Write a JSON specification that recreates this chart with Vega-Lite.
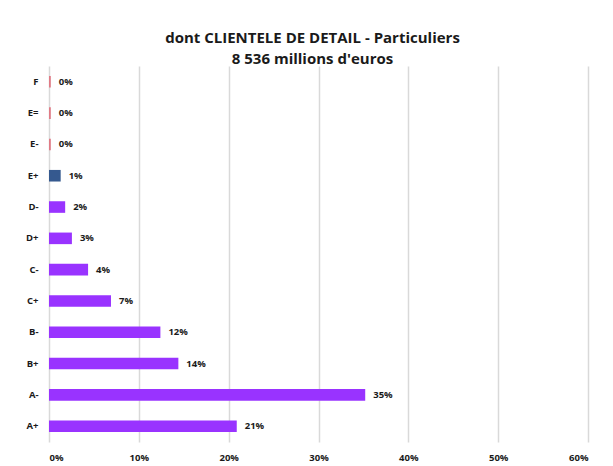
{
  "$schema": "https://vega.github.io/schema/vega-lite/v6.json",
  "width": 539,
  "height": 376,
  "autosize": {"type": "none"},
  "padding": {"left": 49, "top": 66, "right": 25, "bottom": 24},
  "background": "white",
  "title": {
    "text": ["dont CLIENTELE DE DETAIL - Particuliers", "8 536 millions d'euros"],
    "font": "Open Sans, sans-serif",
    "fontSize": 15,
    "fontWeight": "bold",
    "color": "#1a1a1a",
    "lineHeight": 21,
    "anchor": "middle",
    "dx": -6,
    "offset": -1
  },
  "data": {
    "values": [
      {"note": "F", "share": 0.002, "label": "0%", "kind": "zero"},
      {"note": "E=", "share": 0.002, "label": "0%", "kind": "zero"},
      {"note": "E-", "share": 0.002, "label": "0%", "kind": "zero"},
      {"note": "E+", "share": 0.013, "label": "1%", "kind": "blue"},
      {"note": "D-", "share": 0.018, "label": "2%", "kind": "purple"},
      {"note": "D+", "share": 0.0255, "label": "3%", "kind": "purple"},
      {"note": "C-", "share": 0.0435, "label": "4%", "kind": "purple"},
      {"note": "C+", "share": 0.069, "label": "7%", "kind": "purple"},
      {"note": "B-", "share": 0.124, "label": "12%", "kind": "purple"},
      {"note": "B+", "share": 0.144, "label": "14%", "kind": "purple"},
      {"note": "A-", "share": 0.352, "label": "35%", "kind": "purple"},
      {"note": "A+", "share": 0.209, "label": "21%", "kind": "purple"}
    ]
  },
  "encoding": {
    "y": {
      "field": "note",
      "type": "nominal",
      "sort": null,
      "scale": {"paddingInner": 0.63, "paddingOuter": 0.32},
      "axis": {
        "title": null,
        "domain": false,
        "ticks": false,
        "labelPadding": 11,
        "labelFont": "Open Sans, sans-serif",
        "labelFontSize": 9.5,
        "labelFontWeight": "bold",
        "labelColor": "#1a1a1a"
      }
    },
    "x": {
      "field": "share",
      "type": "quantitative",
      "scale": {"domain": [0, 0.6], "nice": false},
      "axis": {
        "title": null,
        "format": ".0%",
        "values": [0, 0.1, 0.2, 0.3, 0.4, 0.5, 0.6],
        "domain": false,
        "ticks": false,
        "labelPadding": 10,
        "labelFont": "Open Sans, sans-serif",
        "labelFontSize": 9.5,
        "labelFontWeight": "bold",
        "labelColor": "#1a1a1a",
        "grid": true,
        "gridColor": "#d9d9d9",
        "gridWidth": 1.5
      }
    }
  },
  "layer": [
    {
      "mark": {"type": "bar", "opacity": 1},
      "encoding": {
        "color": {
          "field": "kind",
          "type": "nominal",
          "scale": {"domain": ["zero", "blue", "purple"], "range": ["#e07a85", "#35598f", "#9933ff"]},
          "legend": null
        }
      }
    },
    {
      "mark": {
        "type": "text",
        "align": "left",
        "dx": 8,
        "font": "Open Sans, sans-serif",
        "fontSize": 9.5,
        "fontWeight": "bold",
        "color": "#1a1a1a"
      },
      "encoding": {"text": {"field": "label"}}
    }
  ],
  "config": {"view": {"stroke": null}}
}
